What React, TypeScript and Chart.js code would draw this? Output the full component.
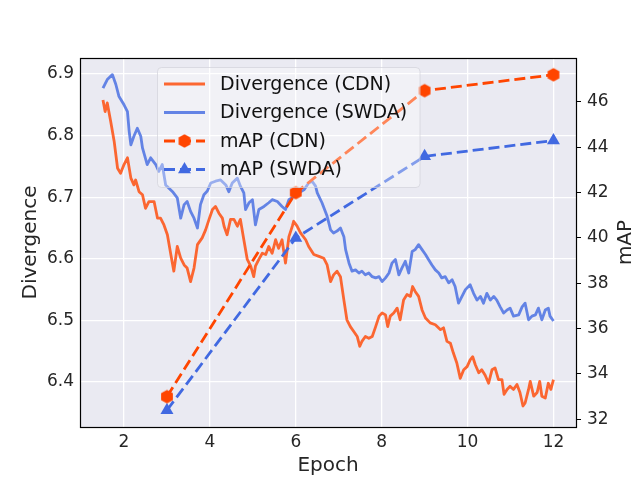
import { useEffect, useRef } from "react";
import { Chart, registerables } from "chart.js";

Chart.register(...registerables);

// axis ticks
const xTicks = [2, 4, 6, 8, 10, 12];
const divTicks = [6.4, 6.5, 6.6, 6.7, 6.8, 6.9];
const mapTicks = [32, 34, 36, 38, 40, 42, 44, 46];

// divergence curves
const cdnEpochs = [
  1.51, 1.56, 1.61, 1.69, 1.77, 1.85, 1.92, 2.0, 2.08, 2.16, 2.23, 2.27, 2.35, 2.43, 2.5, 2.58, 2.7, 2.78, 2.85, 2.93,
  3.01, 3.09, 3.16, 3.24, 3.32, 3.4, 3.47, 3.55, 3.63, 3.71, 3.82, 3.9, 3.98, 4.06, 4.13, 4.21, 4.29, 4.33, 4.4, 4.48,
  4.56, 4.64, 4.71, 4.79, 4.87, 4.95, 5.02, 5.06, 5.14, 5.22, 5.3, 5.37, 5.45, 5.53, 5.6, 5.68, 5.76, 5.84, 5.92, 5.95,
  6.03, 6.11, 6.23, 6.3, 6.42, 6.54, 6.65, 6.73, 6.81, 6.88, 6.96, 7.04, 7.12, 7.19, 7.27, 7.35, 7.43, 7.49, 7.54, 7.62,
  7.7, 7.78, 7.86, 7.94, 8.01, 8.09, 8.14, 8.2, 8.28, 8.36, 8.43, 8.51, 8.59, 8.67, 8.72, 8.78, 8.86, 8.94, 9.02, 9.13,
  9.25, 9.37, 9.44, 9.52, 9.6, 9.67, 9.75, 9.83, 9.91, 9.99, 10.06, 10.12, 10.18, 10.26, 10.33, 10.41, 10.49, 10.57, 10.64, 10.72,
  10.8, 10.85, 10.92, 10.99, 11.07, 11.15, 11.22, 11.29, 11.34, 11.42, 11.46, 11.54, 11.62, 11.68, 11.73, 11.81, 11.88, 11.94, 12.0,
];
const cdnDivergence = [
  6.858, 6.839, 6.853, 6.823, 6.791, 6.747, 6.739, 6.753, 6.764, 6.731, 6.72, 6.728, 6.709, 6.704, 6.682, 6.693, 6.693, 6.666, 6.666, 6.655,
  6.639, 6.607, 6.58, 6.62, 6.601, 6.59, 6.585, 6.563, 6.585, 6.623, 6.634, 6.647, 6.664, 6.68, 6.685, 6.674, 6.666, 6.653, 6.639, 6.664,
  6.664, 6.653, 6.664, 6.631, 6.599, 6.588, 6.571, 6.588, 6.599, 6.609, 6.607, 6.62, 6.609, 6.631, 6.617, 6.631, 6.593, 6.636, 6.653, 6.661,
  6.653, 6.642, 6.631, 6.62, 6.607, 6.604, 6.601, 6.59, 6.563, 6.574, 6.58, 6.571, 6.533, 6.501, 6.49, 6.482, 6.474, 6.458, 6.466, 6.474,
  6.471, 6.474, 6.49, 6.507, 6.512, 6.509, 6.49, 6.507, 6.512, 6.52, 6.501, 6.533, 6.542, 6.539, 6.555, 6.547, 6.539, 6.517, 6.504, 6.496,
  6.493, 6.485, 6.488, 6.466, 6.463, 6.447, 6.431, 6.406, 6.42, 6.425, 6.436, 6.441, 6.428, 6.415, 6.42, 6.411, 6.398, 6.42, 6.423, 6.404,
  6.404, 6.38, 6.388, 6.393, 6.388, 6.396, 6.383, 6.361, 6.366, 6.388, 6.401, 6.377, 6.383, 6.401, 6.377, 6.374, 6.398, 6.388, 6.404,
];

const swdaEpochs = [
  1.51, 1.61, 1.73, 1.81, 1.88, 2.0, 2.08, 2.12, 2.16, 2.23, 2.31, 2.39, 2.43, 2.54, 2.62, 2.74, 2.81, 2.89, 2.97, 3.13,
  3.24, 3.32, 3.4, 3.47, 3.55, 3.63, 3.71, 3.78, 3.86, 3.94, 4.02, 4.13, 4.25, 4.37, 4.44, 4.52, 4.64, 4.71, 4.79, 4.83,
  4.91, 4.99, 5.06, 5.14, 5.26, 5.37, 5.45, 5.57, 5.68, 5.76, 5.84, 5.95, 6.07, 6.19, 6.3, 6.38, 6.46, 6.5, 6.61, 6.73,
  6.81, 6.88, 6.96, 7.04, 7.12, 7.16, 7.24, 7.31, 7.39, 7.47, 7.54, 7.62, 7.7, 7.78, 7.86, 7.94, 8.01, 8.09, 8.17, 8.24,
  8.32, 8.4, 8.47, 8.55, 8.63, 8.71, 8.78, 8.86, 8.94, 9.02, 9.09, 9.17, 9.25, 9.33, 9.4, 9.48, 9.56, 9.64, 9.71, 9.79,
  9.87, 9.95, 10.06, 10.14, 10.22, 10.3, 10.37, 10.45, 10.53, 10.61, 10.68, 10.76, 10.84, 10.92, 10.99, 11.07, 11.19, 11.27, 11.34, 11.42,
  11.5, 11.58, 11.65, 11.73, 11.81, 11.88, 11.92, 12.0,
];
const swdaDivergence = [
  6.877, 6.891, 6.899, 6.883, 6.864, 6.85, 6.839, 6.807, 6.785, 6.799, 6.812, 6.799, 6.78, 6.753, 6.764, 6.753, 6.742, 6.753, 6.72, 6.709,
  6.699, 6.666, 6.688, 6.693, 6.677, 6.666, 6.65, 6.688, 6.704, 6.71, 6.723, 6.726, 6.728, 6.72, 6.709, 6.723, 6.731, 6.718, 6.707, 6.68,
  6.691, 6.696, 6.655, 6.68, 6.685, 6.691, 6.696, 6.693, 6.685, 6.68, 6.696, 6.701, 6.707, 6.712, 6.723, 6.726, 6.718, 6.707, 6.691, 6.669,
  6.647, 6.642, 6.645, 6.65, 6.636, 6.615, 6.593, 6.58, 6.582, 6.577, 6.58, 6.574, 6.577, 6.571, 6.569, 6.571, 6.563, 6.569, 6.577, 6.593,
  6.599, 6.574, 6.585, 6.596, 6.577, 6.612, 6.615, 6.623, 6.615, 6.607, 6.599, 6.59, 6.582, 6.577, 6.569, 6.571, 6.561, 6.566, 6.555, 6.528,
  6.539, 6.55, 6.558, 6.544, 6.533, 6.539, 6.528, 6.544, 6.533, 6.539, 6.533, 6.522, 6.512, 6.517, 6.52, 6.507, 6.509, 6.522, 6.528, 6.501,
  6.507, 6.509, 6.52, 6.501, 6.517, 6.52, 6.507, 6.499,
];

// mAP at the evaluation epochs
const mapEpochs = [3, 6, 9, 12];
const cdnMap = [33.0, 42.0, 46.5, 47.2];
const swdaMap = [32.4, 40.0, 43.6, 44.3];

const ORANGE = "#FF4500";
const BLUE = "#4169E1";
const ORANGE_A = "rgba(255,69,0,0.8)";
const BLUE_A = "rgba(65,105,225,0.8)";
const FONT = "'DejaVu Sans', sans-serif";
const INK = "#262626";

const pts = (xs: number[], ys: number[]) => xs.map((x, i) => ({ x, y: ys[i] }));

function hexagon(color: string) {
  const c = document.createElement("canvas");
  c.width = 16;
  c.height = 16;
  const g = c.getContext("2d")!;
  g.fillStyle = color;
  g.beginPath();
  for (let i = 0; i < 6; i++) {
    const a = -Math.PI / 2 + (i * Math.PI) / 3;
    const px = 8 + 6.8 * Math.cos(a);
    const py = 8 + 6.8 * Math.sin(a);
    if (i) g.lineTo(px, py);
    else g.moveTo(px, py);
  }
  g.closePath();
  g.fill();
  return c;
}

export default function App() {
  const ref = useRef<HTMLCanvasElement>(null);
  useEffect(() => {
    const hex = hexagon(ORANGE);

    const legendItems = [
      { label: "Divergence (CDN)", color: ORANGE_A, dashed: false, marker: "" },
      { label: "Divergence (SWDA)", color: BLUE_A, dashed: false, marker: "" },
      { label: "mAP (CDN)", color: ORANGE, dashed: true, marker: "hex" },
      { label: "mAP (SWDA)", color: BLUE, dashed: true, marker: "tri" },
    ];

    const decor = {
      id: "decor",
      beforeDraw(chart: any) {
        const { ctx, chartArea: a } = chart;
        ctx.save();
        ctx.fillStyle = "#EAEAF2";
        ctx.fillRect(a.left, a.top, a.right - a.left, a.bottom - a.top);
        ctx.restore();
      },
      afterDraw(chart: any) {
        const { ctx, chartArea: a } = chart;
        ctx.save();
        // frame
        ctx.strokeStyle = "#000";
        ctx.lineWidth = 1.2;
        ctx.strokeRect(a.left + 0.5, a.top + 0.5, a.right - a.left, a.bottom - a.top);

        // right axis title, reads bottom to top like the left one
        ctx.fillStyle = INK;
        ctx.font = `20px ${FONT}`;
        ctx.textAlign = "center";
        ctx.textBaseline = "middle";
        ctx.translate(626, (a.top + a.bottom) / 2);
        ctx.rotate(-Math.PI / 2);
        ctx.fillText("mAP", 0, 0);
        ctx.setTransform(1, 0, 0, 1, 0, 0);

        // legend
        const bx = 157.5, by = 67.5, bw = 262.5, bh = 120;
        ctx.beginPath();
        ctx.roundRect(bx, by, bw, bh, 4);
        ctx.fillStyle = "rgba(255,255,255,0.35)";
        ctx.fill();
        ctx.strokeStyle = "rgba(210,210,218,0.7)";
        ctx.lineWidth = 1;
        ctx.stroke();
        legendItems.forEach((it, i) => {
          const y = 84 + i * 28.5;
          ctx.strokeStyle = it.color;
          ctx.lineWidth = 2.8;
          ctx.setLineDash(it.dashed ? [11, 5] : []);
          ctx.beginPath();
          ctx.moveTo(164, y);
          ctx.lineTo(205, y);
          ctx.stroke();
          ctx.setLineDash([]);
          if (it.marker === "hex") {
            ctx.drawImage(hex, 184.5 - 8, y - 8);
          } else if (it.marker === "tri") {
            const r = 7.5;
            ctx.fillStyle = it.color;
            ctx.beginPath();
            ctx.moveTo(184.5, y - r);
            ctx.lineTo(184.5 + r * Math.sin((2 * Math.PI) / 3), y - r * Math.cos((2 * Math.PI) / 3));
            ctx.lineTo(184.5 - r * Math.sin((2 * Math.PI) / 3), y - r * Math.cos((2 * Math.PI) / 3));
            ctx.closePath();
            ctx.fill();
          }
          ctx.fillStyle = "#111";
          ctx.font = `19px ${FONT}`;
          ctx.textAlign = "left";
          ctx.textBaseline = "middle";
          ctx.fillText(it.label, 220, y + 1);
        });
        ctx.restore();
      },
    };

    const tickFont = { family: FONT, size: 17 };
    const titleFont = { family: FONT, size: 20 };

    const chart = new Chart(ref.current!, {
      type: "line",
      data: {
        datasets: [
          {
            label: "mAP (CDN)",
            data: pts(mapEpochs, cdnMap),
            yAxisID: "y1",
            borderColor: ORANGE,
            backgroundColor: ORANGE,
            borderWidth: 2.8,
            borderDash: [11, 5],
            pointStyle: hex as any,
            pointRadius: 7,
            pointBorderWidth: 0,
          },
          {
            label: "mAP (SWDA)",
            data: pts(mapEpochs, swdaMap),
            yAxisID: "y1",
            borderColor: BLUE,
            backgroundColor: BLUE,
            borderWidth: 2.8,
            borderDash: [11, 5],
            pointStyle: "triangle",
            pointRadius: 7.5,
            pointBorderWidth: 0,
          },
          {
            label: "Divergence (CDN)",
            data: pts(cdnEpochs, cdnDivergence),
            yAxisID: "y",
            borderColor: ORANGE_A,
            borderWidth: 2.8,
            borderJoinStyle: "round",
            pointRadius: 0,
          },
          {
            label: "Divergence (SWDA)",
            data: pts(swdaEpochs, swdaDivergence),
            yAxisID: "y",
            borderColor: BLUE_A,
            borderWidth: 2.8,
            borderJoinStyle: "round",
            pointRadius: 0,
          },
        ],
      },
      options: {
        animation: false,
        responsive: true,
        maintainAspectRatio: false,
        events: [],
        layout: { padding: { top: 58, left: 0, right: 0, bottom: 0 } },
        plugins: { legend: { display: false }, tooltip: { enabled: false } },
        scales: {
          x: {
            type: "linear",
            min: 0.975,
            max: 12.525,
            afterBuildTicks: (s: any) => {
              s.ticks = xTicks.map((v) => ({ value: v }));
            },
            afterFit: (s: any) => {
              s.height = 53;
            },
            grid: { color: "#fff", lineWidth: 1.3, drawTicks: false },
            border: { display: false },
            ticks: { color: INK, font: tickFont, padding: 5, callback: (v: any) => String(v) },
            title: { display: true, text: "Epoch", color: INK, font: titleFont, padding: { top: 0, bottom: 2 } },
          },
          y: {
            type: "linear",
            position: "left",
            min: 6.327,
            max: 6.926,
            afterBuildTicks: (s: any) => {
              s.ticks = divTicks.map((v) => ({ value: v }));
            },
            afterFit: (s: any) => {
              s.width = 80;
            },
            grid: { color: "#fff", lineWidth: 1.3, drawTicks: false },
            border: { display: false },
            ticks: { color: INK, font: tickFont, padding: 6, callback: (v: any) => Number(v).toFixed(1) },
            title: { display: true, text: "Divergence", color: INK, font: titleFont, padding: { top: 19, bottom: 0 } },
          },
          y1: {
            type: "linear",
            position: "right",
            min: 31.66,
            max: 47.94,
            afterBuildTicks: (s: any) => {
              s.ticks = mapTicks.map((v) => ({ value: v }));
            },
            afterFit: (s: any) => {
              s.width = 64;
            },
            grid: {
              drawOnChartArea: false,
              drawTicks: true,
              tickLength: 5,
              color: "#000",
              tickColor: "#000",
              tickWidth: 1,
            },
            border: { display: false },
            ticks: { color: INK, font: tickFont, padding: 6, callback: (v: any) => String(v) },
          },
        },
      },
      plugins: [decor],
    });
    return () => chart.destroy();
  }, []);
  return (
    <div style={{ position: "absolute", left: 0, top: 0, width: 640, height: 480 }}>
      <canvas ref={ref} />
    </div>
  );
}
